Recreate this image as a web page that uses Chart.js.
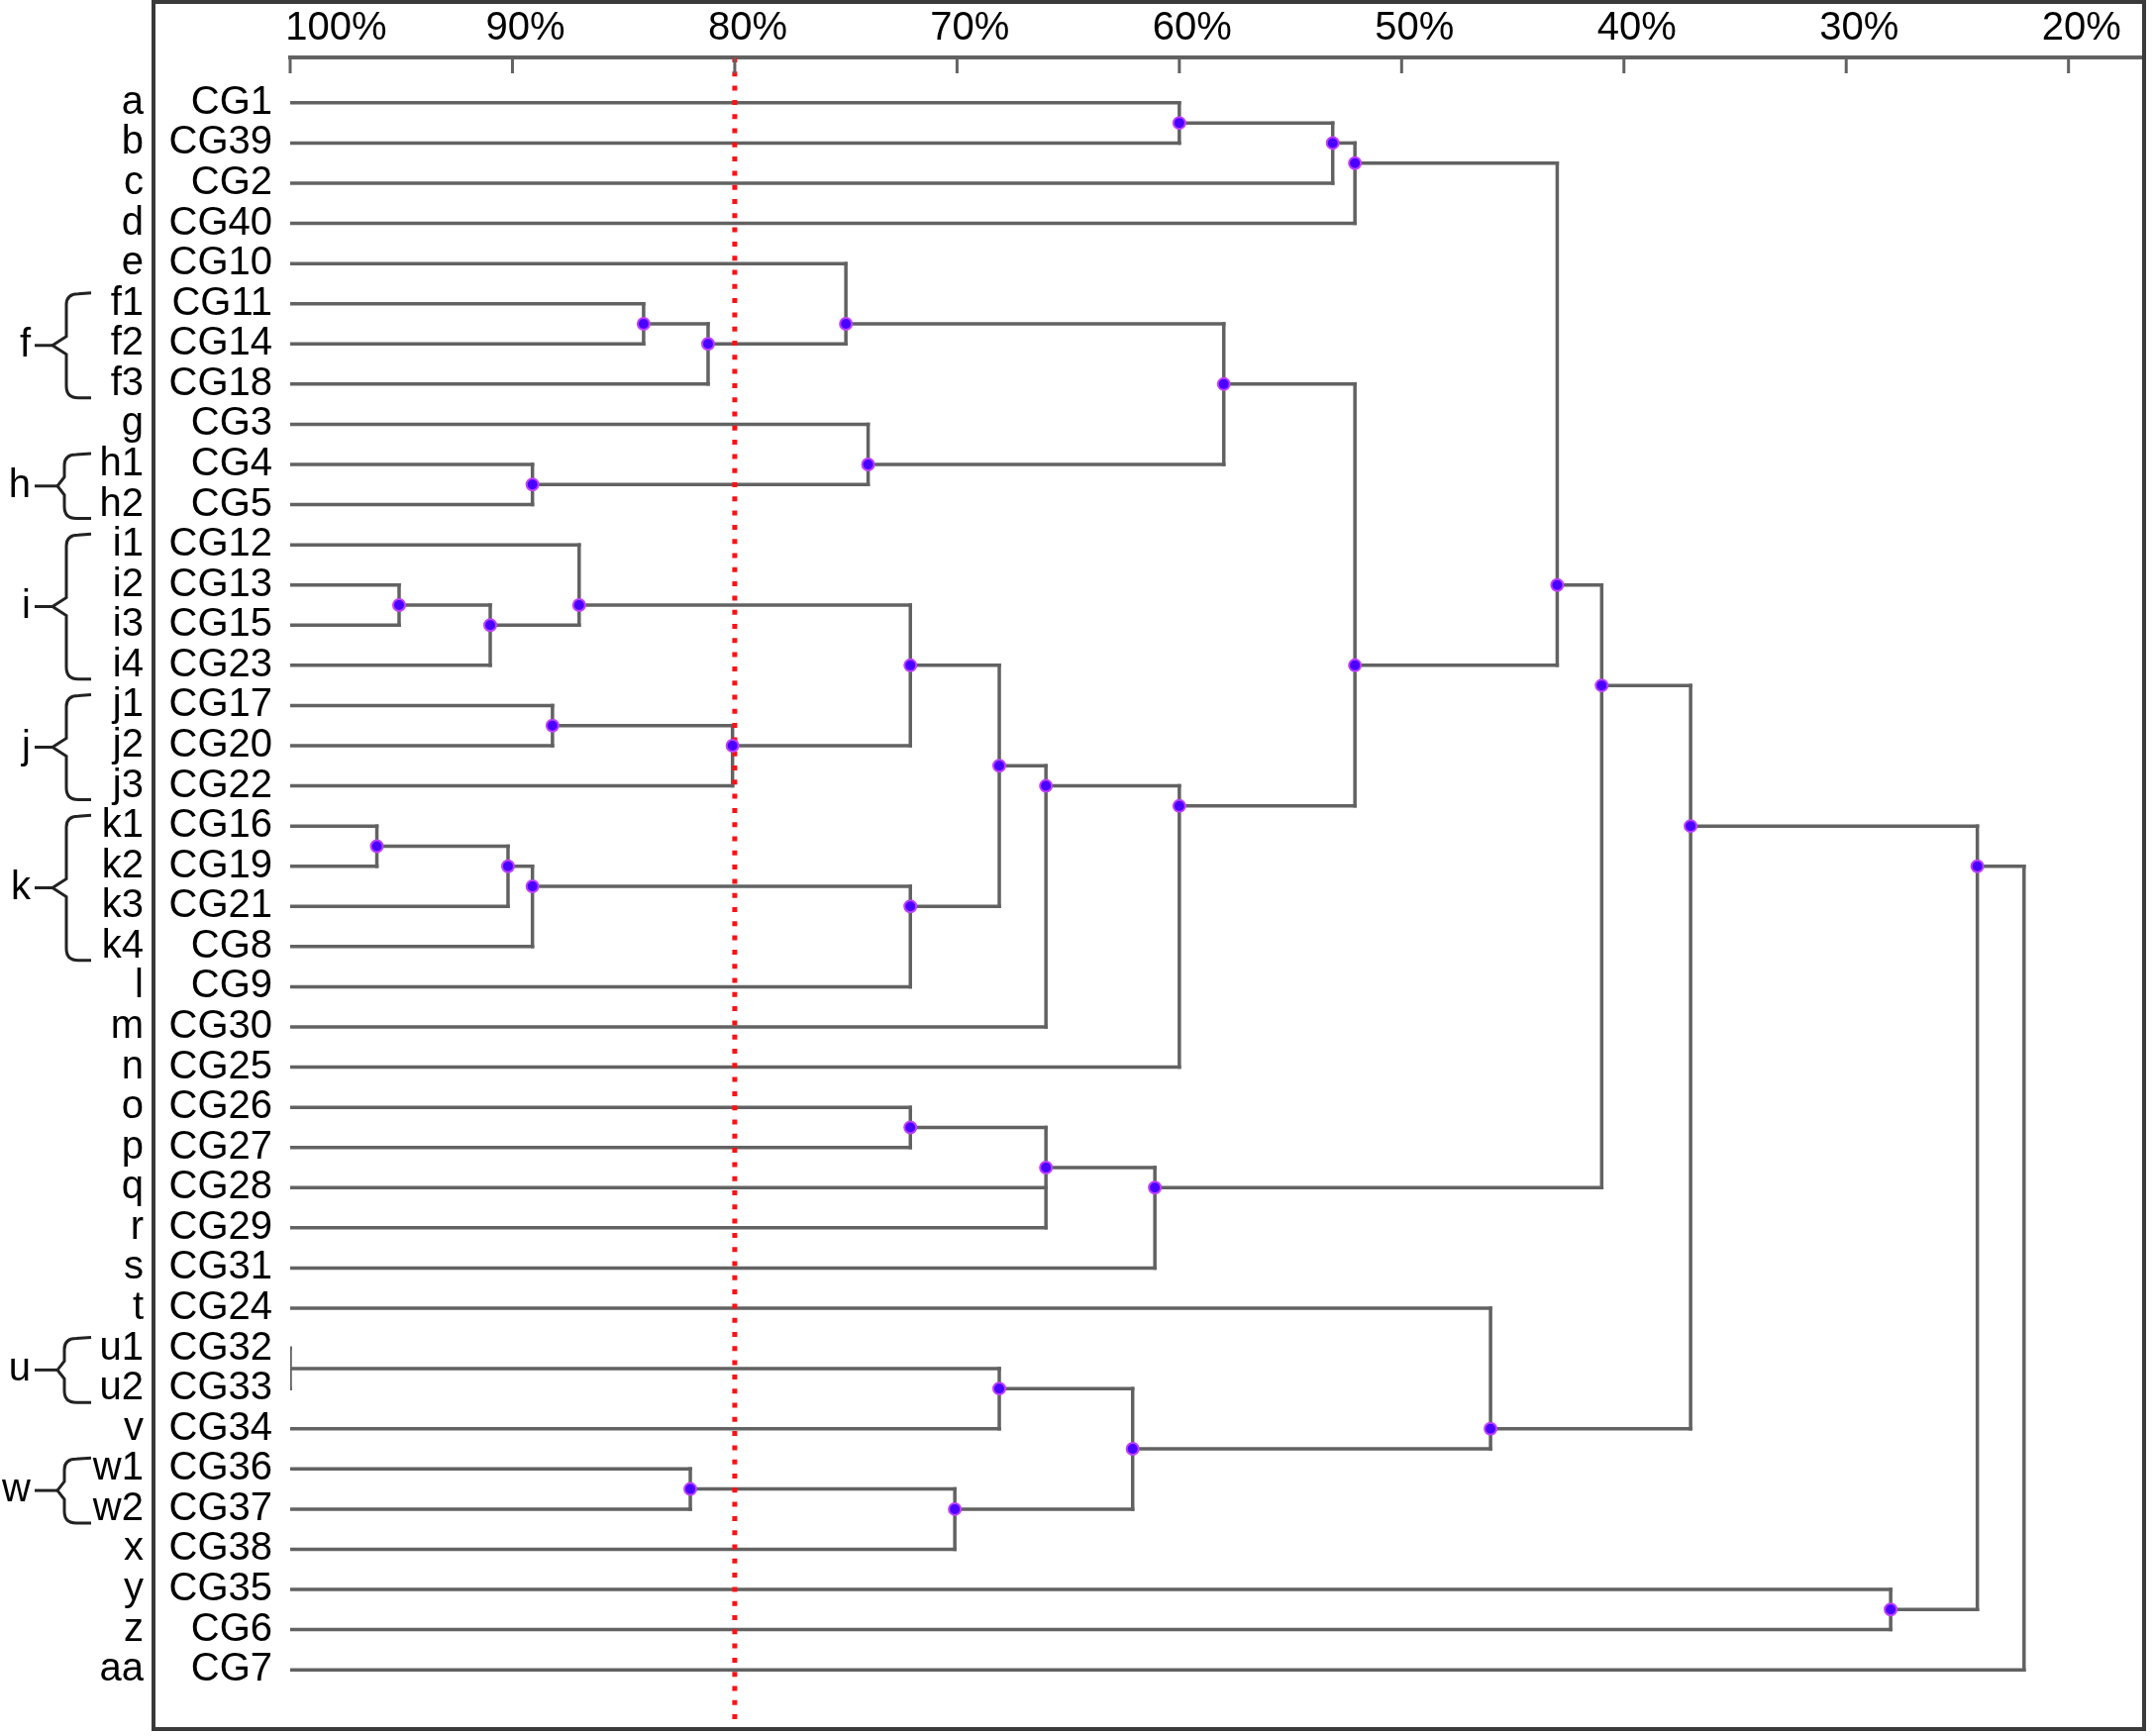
<!DOCTYPE html>
<html><head><meta charset="utf-8">
<script src="https://cdn.jsdelivr.net/npm/chart.js@4.4.1/dist/chart.umd.min.js"></script>
<style>html,body{margin:0;padding:0;background:#fff;} #wrap{width:2173px;height:1753px;}</style>
</head><body><div id="wrap"><canvas id="c" width="2173" height="1753"></canvas></div>
<script>
// ---------- data ----------
const leafNames = ['CG1','CG39','CG2','CG40','CG10','CG11','CG14','CG18','CG3','CG4','CG5','CG12','CG13','CG15','CG23','CG17','CG20','CG22','CG16','CG19','CG21','CG8','CG9','CG30','CG25','CG26','CG27','CG28','CG29','CG31','CG24','CG32','CG33','CG34','CG36','CG37','CG38','CG35','CG6','CG7'];
const leafCodes = ['a','b','c','d','e','f1','f2','f3','g','h1','h2','i1','i2','i3','i4','j1','j2','j3','k1','k2','k3','k4','l','m','n','o','p','q','r','s','t','u1','u2','v','w1','w2','x','y','z','aa'];
const nodeIds = ['n1','n2','n3','n4','n5','n6','n7','n8','n9','n10','n11','n12','n13','n14','n15','n16','n17','n18','n19','n20','n21','n22','n23','n24','n25','n26','n27','n28','n29','n30','n31','n32','n33','n34','n35','n36','n37','n38'];
const nodeChildren = [
  ['CG1','CG39'], ['n1','CG2'], ['n2','CG40'],
  ['CG11','CG14'], ['n4','CG18'], ['CG10','n5'], ['CG4','CG5'], ['CG3','n7'], ['n6','n8'],
  ['CG13','CG15'], ['n10','CG23'], ['CG12','n11'], ['CG17','CG20'], ['n13','CG22'], ['n12','n14'],
  ['CG16','CG19'], ['n16','CG21'], ['n17','CG8'], ['n18','CG9'], ['n15','n19'], ['n20','CG30'], ['n21','CG25'],
  ['n9','n22'],
  ['CG26','CG27'], ['n24','CG28','CG29'], ['n25','CG31'],
  ['n3','n23'], ['n27','n26'],
  ['CG32','CG33'], ['n29','CG34'], ['CG36','CG37'], ['n31','CG38'], ['n30','n32'], ['CG24','n33'],
  ['n28','n34'], ['CG35','CG6'], ['n35','n36'], ['n37','CG7']
];
const nodeLevels = [60.0, 53.1, 52.1, 84.1, 81.2, 75.0, 89.1, 74.0, 58.0, 95.1, 91.0, 87.0, 88.2, 80.1, 72.1, 96.1, 90.2, 89.1, 72.1, 68.1, 66.0, 60.0, 52.1, 72.1, 66.0, 61.1, 43.0, 41.0, 100, 68.1, 82.0, 70.1, 62.1, 46.0, 37.0, 28.0, 24.1, 22.0];
const unmarkedNodes = ['n29','n38'];
const xTickValues = [100,90,80,70,60,50,40,30,20];
const cutoffLevel = 80;
const braceLetters = ['f','h','i','j','k','u','w'];
const braceFirst = ['f1','h1','i1','j1','k1','u1','w1'];
const braceLast  = ['f3','h2','i4','j3','k4','u2','w2'];

// ---------- layout from tree ----------
const FONT = '"Liberation Sans", Arial, Helvetica, sans-serif';
const LINE = '#626262';
const Y_MIN = -1.13, Y_MAX = 40.45;
const levelOf = {}, leavesOf = {}, parentOf = {};
leafNames.forEach((n, i) => { levelOf[n] = 100; leavesOf[n] = [i]; });
nodeIds.forEach((id, k) => {
  levelOf[id] = nodeLevels[k];
  leavesOf[id] = [].concat(...nodeChildren[k].map(c => leavesOf[c]));
  nodeChildren[k].forEach(c => parentOf[c] = id);
});
const yOf = id => { const l = leavesOf[id]; return l.reduce((a, b) => a + b, 0) / l.length; };

const segments = [];
Object.keys(levelOf).forEach(id => {
  const p = parentOf[id];
  if (p) segments.push([{x: levelOf[id], y: yOf(id)}, {x: levelOf[p], y: yOf(id)}]);
});
nodeIds.forEach((id, k) => {
  const ys = nodeChildren[k].map(yOf);
  segments.push([{x: nodeLevels[k], y: Math.min(...ys)}, {x: nodeLevels[k], y: Math.max(...ys)}]);
});

const datasets = segments.map(s => ({
  data: s, showLine: true, borderColor: LINE, borderWidth: 3.5, pointRadius: 0,
  borderCapStyle: 'square', order: 3
}));
datasets.push({
  data: [{x: cutoffLevel, y: Y_MIN}, {x: cutoffLevel, y: Y_MAX}],
  showLine: true, borderColor: '#ff1010', borderWidth: 5, borderDash: [5, 9.3],
  borderCapStyle: 'butt', pointRadius: 0, order: 2
});
datasets.push({
  data: nodeIds.filter(id => !unmarkedNodes.includes(id)).map(id => ({x: levelOf[id], y: yOf(id)})),
  showLine: false, pointRadius: 6, pointBackgroundColor: '#4a00ff',
  pointBorderColor: '#c040ff', pointBorderWidth: 2, order: 1
});

const noPad = s => { s.paddingTop = 0; s.paddingBottom = 0; s.paddingLeft = 0; s.paddingRight = 0; };

const decor = {
  id: 'decor',
  afterDraw(chart) {
    const ctx = chart.ctx, xs = chart.scales.x, ys = chart.scales.y, a = chart.chartArea;
    ctx.save();
    // inward tick marks
    ctx.strokeStyle = LINE; ctx.lineWidth = 3;
    xs.ticks.forEach(t => {
      const px = xs.getPixelForValue(t.value);
      ctx.beginPath(); ctx.moveTo(px, a.top); ctx.lineTo(px, a.top + 16); ctx.stroke();
    });
    // frame
    ctx.strokeStyle = '#3a3a3a'; ctx.lineWidth = 4;
    ctx.strokeRect(ys.left, 2, a.right - ys.left, a.bottom - 1);
    // braces
    ctx.strokeStyle = '#222'; ctx.lineWidth = 3; ctx.fillStyle = '#000';
    ctx.font = '40px ' + FONT; ctx.textAlign = 'right'; ctx.textBaseline = 'middle';
    braceLetters.forEach((L, i) => {
      const r0 = leafCodes.indexOf(braceFirst[i]), r1 = leafCodes.indexOf(braceLast[i]);
      const top = ys.getPixelForValue(r0) - 11, bot = ys.getPixelForValue(r1) + 14, mid = (top + bot) / 2;
      const two = (r1 - r0) === 1;
      const xv = two ? 65 : 67, xe = 92, xt = two ? 58 : 53;
      ctx.beginPath();
      ctx.moveTo(xe, top);
      ctx.lineTo(xv + 12, top + 1);
      ctx.quadraticCurveTo(xv, top + 1, xv, top + 12);
      ctx.lineTo(xv, mid - 9);
      ctx.lineTo(xt, mid);
      ctx.lineTo(xv, mid + 9);
      ctx.lineTo(xv, bot - 12);
      ctx.quadraticCurveTo(xv, bot, xv + 12, bot);
      ctx.lineTo(xe, bot);
      ctx.stroke();
      ctx.beginPath(); ctx.moveTo(35, mid); ctx.lineTo(xt, mid); ctx.stroke();
      ctx.fillText(L, 31, mid);
    });
    ctx.restore();
  }
};

new Chart(document.getElementById('c'), {
  type: 'scatter',
  data: {datasets},
  options: {
    responsive: false, animation: false, events: [],
    layout: {padding: {left: 0, top: 0, right: 3, bottom: 6}},
    plugins: {legend: {display: false}, tooltip: {enabled: false}},
    scales: {
      x: {
        type: 'linear', position: 'top', reverse: true, min: 16.6, max: 100,
        afterBuildTicks: s => { s.ticks = xTickValues.map(v => ({value: v})); },
        afterFit: s => { s.height = 58; noPad(s); },
        grid: {display: false, drawTicks: false},
        border: {display: true, color: LINE, width: 4},
        ticks: {autoSkip: false, maxRotation: 0, padding: 5, labelOffset: 13, color: '#000',
          font: {family: FONT, size: 40},
          callback: v => (v === 100 ? '      ' : '') + v + '%'}
      },
      y: {
        type: 'linear', position: 'left', reverse: true, min: Y_MIN, max: Y_MAX, weight: 0,
        afterBuildTicks: s => { s.ticks = leafNames.map((_, i) => ({value: i})); },
        afterFit: s => { s.width = 138; noPad(s); },
        grid: {display: false, drawTicks: false}, border: {display: false},
        ticks: {autoSkip: false, padding: 18, color: '#000', font: {family: FONT, size: 40},
          callback: v => leafNames[v]}
      },
      y2: {
        type: 'linear', position: 'left', reverse: true, min: Y_MIN, max: Y_MAX, weight: 1,
        afterBuildTicks: s => { s.ticks = leafCodes.map((_, i) => ({value: i})); },
        afterFit: s => { s.width = 155; noPad(s); },
        grid: {display: false, drawTicks: false}, border: {display: false},
        ticks: {autoSkip: false, padding: 10, color: '#000', font: {family: FONT, size: 40},
          callback: v => leafCodes[v]}
      }
    }
  },
  plugins: [decor]
});
</script>
</body></html>
